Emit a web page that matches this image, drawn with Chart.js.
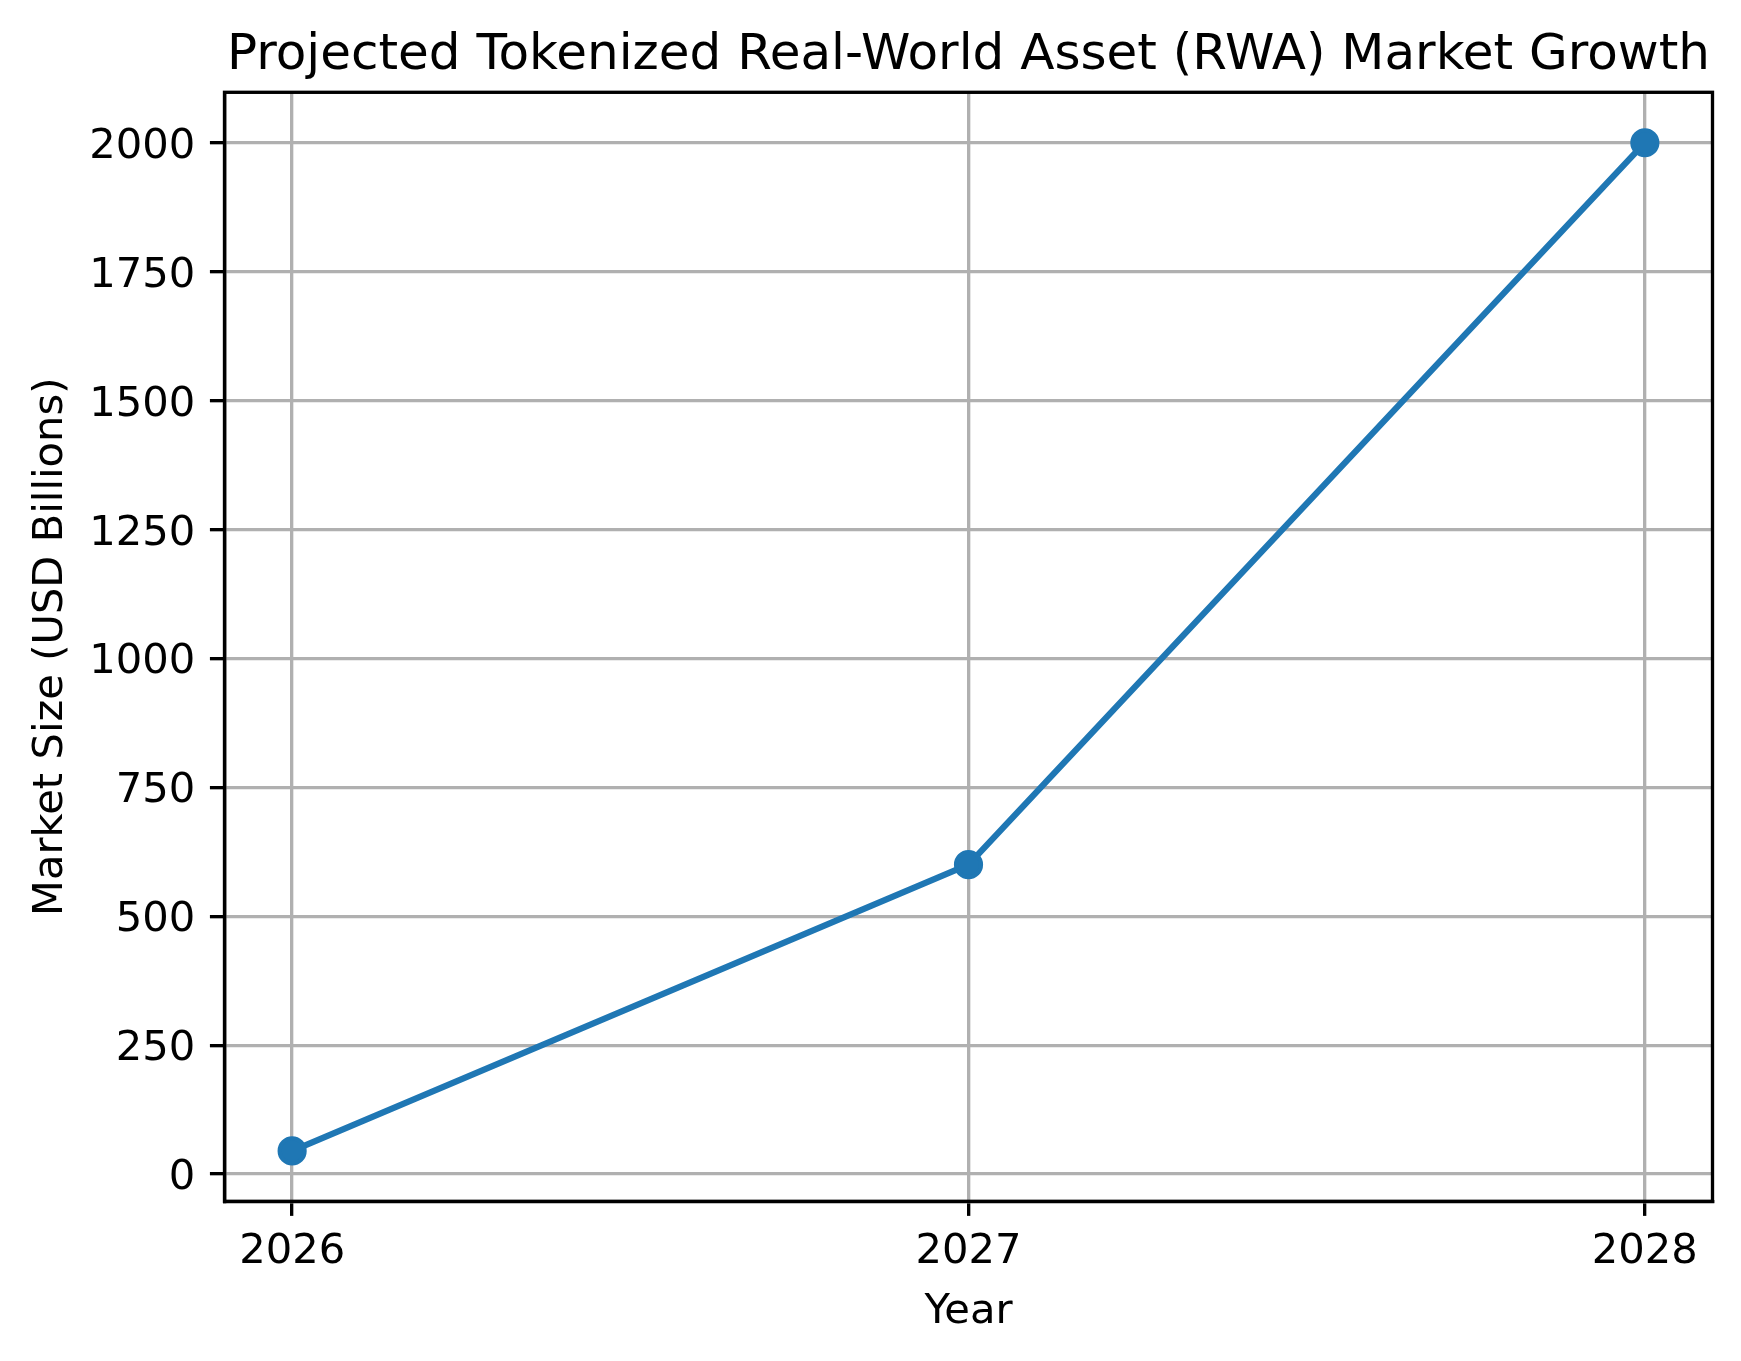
<!DOCTYPE html>
<html>
<head>
<meta charset="utf-8">
<script src="https://cdn.jsdelivr.net/npm/chart.js@4/dist/chart.umd.min.js"></script>
<style>
  html, body { margin: 0; padding: 0; background: #fff; }
  canvas { display: block; }
</style>
</head>
<body>
<canvas id="chart" width="1741" height="1361"></canvas>
<script>
// ─── Data ────────────────────────────────────────────────────────────────────
const YEARS       = [2026, 2027, 2028];
const MARKET_SIZE = [45, 600, 2000];
const X_TICKS     = [2026, 2027, 2028];
const Y_TICKS     = [0, 250, 500, 750, 1000, 1250, 1500, 1750, 2000];

const TITLE   = "Projected Tokenized Real-World Asset (RWA) Market Growth";
const X_LABEL = "Year";
const Y_LABEL = "Market Size (USD Billions)";

// ─── Style (matplotlib defaults at 300 dpi) ─────────────────────────────────
const PT     = 300 / 72;
const FONT   = "'DejaVu Sans', sans-serif";
const BLUE   = "#1f77b4";
const GRID   = "#b0b0b0";
const LW     = 0.8 * PT;   // spines, ticks, grid
const TICK   = 3.5 * PT;

// matplotlib-style 5% margins
function padded(values, frac) {
    const lo = Math.min(...values), hi = Math.max(...values);
    const m = (hi - lo) * frac;
    return [lo - m, hi + m];
}
const [xMin, xMax] = padded(YEARS, 0.05);
const [yMin, yMax] = padded(MARKET_SIZE, 0.05);

// Draw the full box around the plot area (top + right spines too).
const frame = {
    id: "frame",
    afterDraw(chart) {
        const { ctx, chartArea: a } = chart;
        ctx.save();
        ctx.strokeStyle = "#000";
        ctx.lineWidth = LW;
        ctx.strokeRect(a.left, a.top, a.right - a.left, a.bottom - a.top);
        ctx.restore();
    },
};

Chart.defaults.font.family = FONT;
Chart.defaults.color = "#000";

new Chart(document.getElementById("chart"), {
    type: "line",
    data: {
        datasets: [{
            data: YEARS.map((y, i) => ({ x: y, y: MARKET_SIZE[i] })),
            borderColor: BLUE,
            backgroundColor: BLUE,
            borderWidth: 1.5 * PT,
            pointRadius: 3 * PT,
            pointBackgroundColor: BLUE,
            pointBorderColor: BLUE,
            pointBorderWidth: 1 * PT,
            tension: 0,
        }],
    },
    options: {
        responsive: false,
        animation: false,
        devicePixelRatio: 1,
        layout: { padding: { left: 0, top: 0, right: 28.5, bottom: 0 } },
        plugins: {
            legend:  { display: false },
            tooltip: { enabled: false },
            title: {
                display: true,
                text: TITLE,
                fullSize: false,
                color: "#000",
                font: { family: FONT, size: 12 * PT, weight: "normal" },
                padding: { top: 25.7, bottom: 6.6 },
            },
        },
        scales: {
            x: {
                type: "linear",
                min: xMin,
                max: xMax,
                afterBuildTicks: (s) => { s.ticks = X_TICKS.map((v) => ({ value: v })); },
                afterFit: (s) => { s.height = 159.7; },
                ticks: {
                    font: { size: 10 * PT },
                    padding: 11.3,
                    maxRotation: 0,
                    callback: (v) => String(v),
                },
                grid: {
                    color: GRID,
                    lineWidth: LW,
                    drawTicks: true,
                    tickLength: TICK,
                    tickColor: "#000",
                    tickWidth: LW,
                },
                border: { display: true, color: "#000", width: LW },
                title: {
                    display: true,
                    text: X_LABEL,
                    font: { size: 10 * PT },
                    padding: { top: 0, bottom: 23.6 },
                },
            },
            y: {
                type: "linear",
                min: yMin,
                max: yMax,
                afterBuildTicks: (s) => { s.ticks = Y_TICKS.map((v) => ({ value: v })); },
                afterFit: (s) => { s.width = 224.5; },
                ticks: {
                    font: { size: 10 * PT },
                    padding: TICK,
                    labelOffset: 4.2,   // centre the digits on the tick like matplotlib
                    callback: (v) => String(v),
                },
                grid: {
                    color: GRID,
                    lineWidth: LW,
                    drawTicks: true,
                    tickLength: TICK,
                    tickColor: "#000",
                    tickWidth: LW,
                },
                border: { display: true, color: "#000", width: LW },
                title: {
                    display: true,
                    text: Y_LABEL,
                    font: { size: 10 * PT },
                    padding: { top: 25.7, bottom: 0 },
                },
            },
        },
    },
    plugins: [frame],
});
</script>
</body>
</html>
